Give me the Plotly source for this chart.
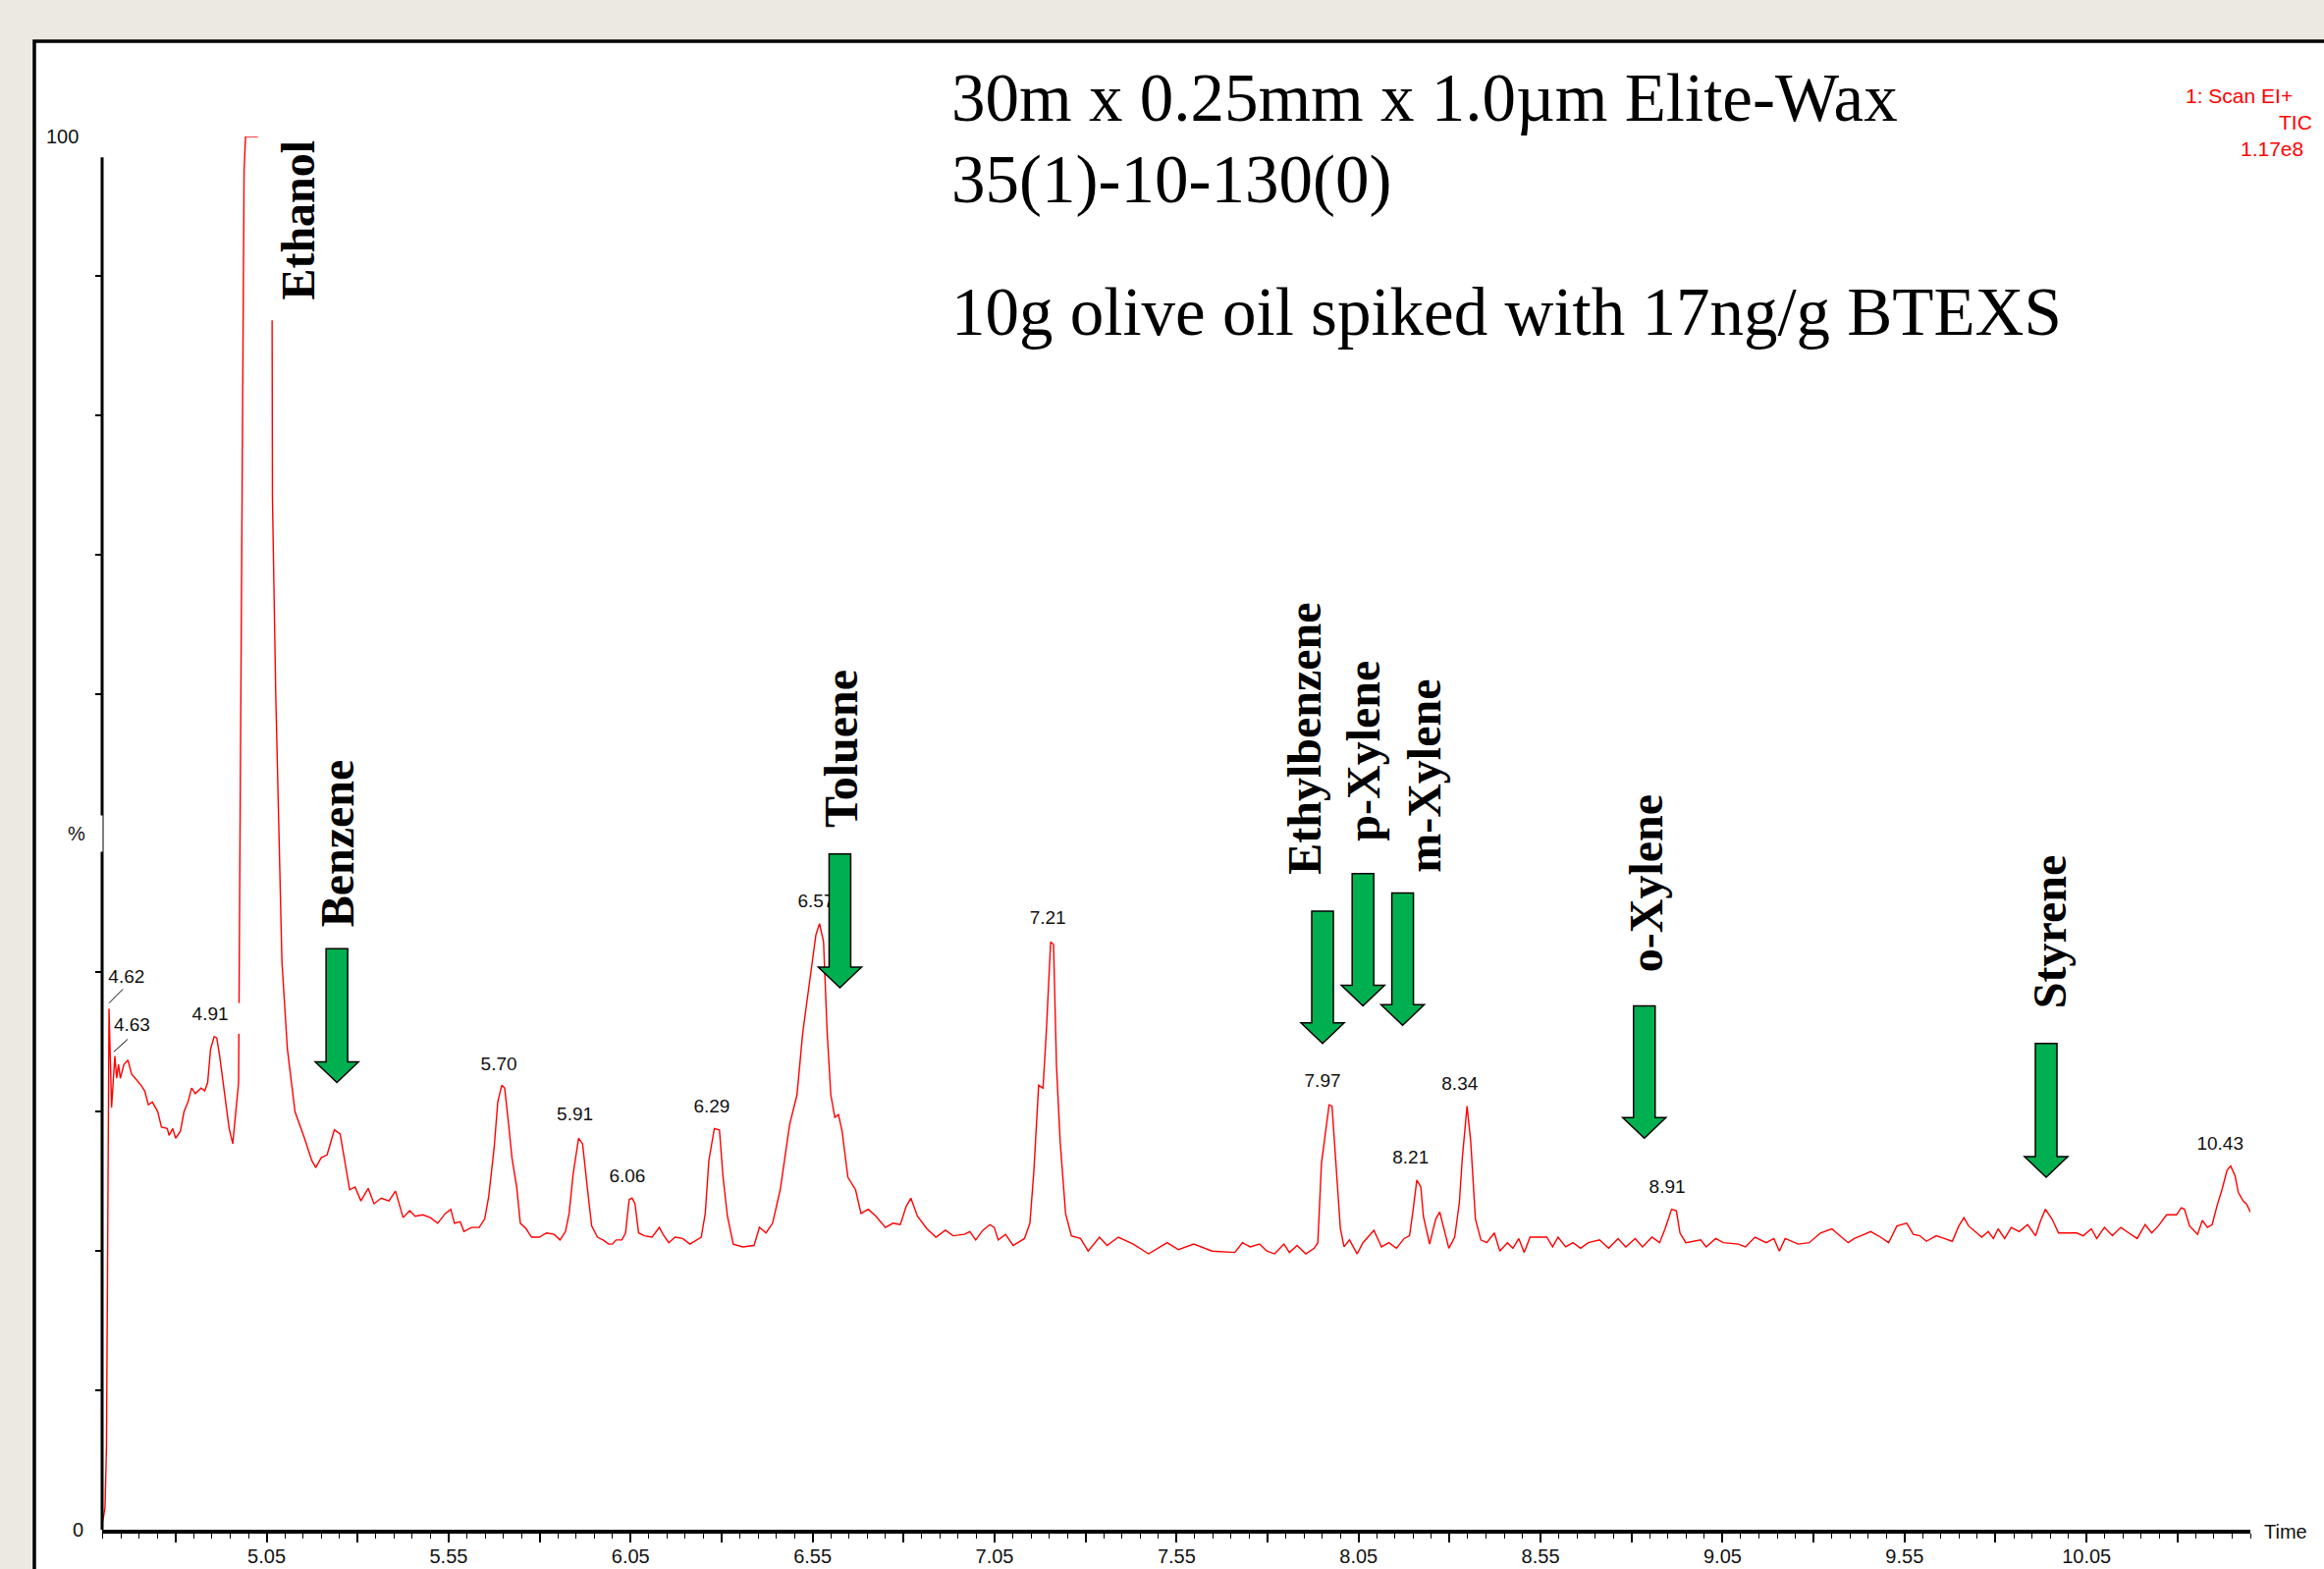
import plotly.graph_objects as go

# ---------------- data ----------------
time_min = [
    4.600, 4.606, 4.610, 4.613, 4.617, 4.624, 4.633, 4.638, 4.643, 4.648,
    4.658, 4.669, 4.679, 4.689, 4.705, 4.715, 4.725, 4.736, 4.751, 4.761,
    4.777, 4.782, 4.792, 4.800, 4.813, 4.823, 4.834, 4.844, 4.854, 4.870,
    4.880, 4.888, 4.896, 4.906, 4.913, 4.921, 4.934, 4.947, 4.957, 4.965,
    4.973, 4.976, 4.982, 4.988, 4.992, 5.026, None,
    5.065, 5.066, 5.075, 5.087, 5.092, 5.107, 5.128, 5.154, 5.174, 5.185,
    5.200, 5.216, 5.236, 5.252, 5.262, 5.278, 5.293, 5.309, 5.329, 5.345,
    5.365, 5.386, 5.404, 5.425, 5.443, 5.458, 5.479, 5.500, 5.520, 5.541,
    5.556, 5.566, 5.582, 5.592, 5.613, 5.634, 5.649, 5.660, 5.675, 5.685,
    5.696, 5.704, 5.714, 5.724, 5.737, 5.747, 5.763, 5.778, 5.799, 5.819,
    5.840, 5.856, 5.871, 5.881, 5.892, 5.907, 5.918, 5.925, 5.933, 5.943,
    5.959, 5.974, 5.990, 6.000, 6.010, 6.026, 6.036, 6.046, 6.054, 6.062,
    6.072, 6.088, 6.109, 6.129, 6.139, 6.155,
    6.172, 6.193, 6.213, 6.244, 6.255, 6.265, 6.280, 6.294, 6.304, 6.316,
    6.332, 6.358, 6.389, 6.404, 6.422, 6.440, 6.461, 6.487, 6.507, 6.523,
    6.549, 6.559, 6.569, 6.580, 6.590, 6.600, 6.611, 6.621, 6.631, 6.647,
    6.668, 6.683, 6.703, 6.724, 6.750, 6.771, 6.791, 6.807, 6.820, 6.838,
    6.864, 6.889, 6.915, 6.936, 6.967, 6.982, 6.998, 7.018, 7.037, 7.049,
    7.060, 7.080, 7.101, 7.132, 7.147, 7.158, 7.171, 7.183, 7.192, 7.204,
    7.212, 7.220, 7.230, 7.245, 7.261, 7.286, 7.307, 7.338, 7.359, 7.390,
    7.431, 7.473, 7.524, 7.555, 7.597, 7.648, 7.710, 7.731, 7.752,
    7.778, 7.798, 7.819, 7.845, 7.860, 7.881, 7.905, 7.928, 7.938, 7.948,
    7.969, 7.977, 7.988, 8.000, 8.010, 8.025, 8.046, 8.062, 8.092, 8.113,
    8.133, 8.154, 8.175, 8.190, 8.200, 8.210, 8.221, 8.228, 8.245, 8.262,
    8.273, 8.283, 8.298, 8.314, 8.327, 8.335, 8.348, 8.358, 8.371, 8.386,
    8.402, 8.423, 8.438, 8.459, 8.474, 8.490, 8.505, 8.521, 8.567, 8.583,
    8.598, 8.619, 8.639, 8.660, 8.681, 8.712, 8.737, 8.763, 8.784, 8.810,
    8.830, 8.856, 8.877, 8.892, 8.910, 8.923, 8.933, 8.949, 8.990, 9.005,
    9.031, 9.052, 9.093, 9.113, 9.139, 9.170, 9.191, 9.206, 9.222, 9.258,
    9.288, 9.319, 9.350,
    9.395, 9.412, 9.430, 9.457, 9.484, 9.506, 9.529, 9.556, 9.574, 9.592,
    9.610, 9.637, 9.659, 9.681, 9.699, 9.713, 9.726, 9.762, 9.780, 9.794,
    9.807, 9.825, 9.843, 9.865, 9.888, 9.910, 9.924, 9.937, 9.955, 9.973,
    9.996, 10.023, 10.041, 10.063, 10.078, 10.099, 10.121, 10.144, 10.166, 10.189,
    10.211, 10.229, 10.247, 10.270, 10.297, 10.310, 10.319, 10.333, 10.355, 10.368,
    10.382, 10.395, 10.409, 10.422, 10.436, 10.446, 10.458, 10.467, 10.480, 10.489,
    10.500,
]
intensity_pct = [
    0.6, 1.6, 6.0, 20.0, 37.4, 30.3, 34.0, 32.4, 33.4, 32.4,
    33.4, 33.7, 32.7, 32.4, 31.9, 31.5, 30.5, 30.7, 30.0, 28.9,
    28.8, 28.3, 28.8, 28.1, 28.6, 30.0, 30.7, 31.7, 31.3, 31.7,
    31.5, 32.1, 34.5, 35.4, 35.3, 34.0, 31.2, 28.8, 27.7, 29.8,
    32.1, 46.0, 74.4, 97.5, 100.0, 100.0, None,
    86.8, 74.0, 60.0, 46.2, 40.8, 34.5, 30.0, 28.1, 26.5, 26.0,
    26.7, 26.9, 28.7, 28.4, 26.9, 24.4, 24.6, 23.6, 24.5, 23.4,
    23.8, 23.6, 24.3, 22.4, 22.9, 22.5, 22.6, 22.4, 22.0, 22.7,
    23.0, 22.0, 22.1, 21.4, 21.7, 21.7, 22.3, 23.9, 27.4, 30.7,
    31.9, 31.7, 29.3, 26.7, 24.6, 22.0, 21.6, 21.0, 21.0, 21.3,
    21.2, 20.8, 21.4, 22.7, 25.5, 28.1, 27.7, 25.8, 24.1, 21.8,
    21.0, 20.8, 20.5, 20.5, 20.8, 20.8, 21.3, 23.7, 23.8, 23.4,
    21.3, 21.1, 21.0, 21.7, 21.2, 20.6,
    21.0, 20.9, 20.5, 21.0, 22.7, 26.5, 28.8, 28.7, 25.3, 22.5,
    20.5, 20.3, 20.4, 21.7, 21.3, 22.0, 24.4, 29.1, 31.2, 35.7,
    40.6, 42.7, 43.5, 42.2, 35.7, 31.2, 29.6, 29.8, 28.6, 25.3,
    24.4, 22.7, 23.0, 22.5, 21.7, 22.0, 21.9, 23.2, 23.8, 22.5,
    21.6, 21.0, 21.5, 21.1, 21.2, 21.4, 20.8, 21.5, 21.9, 21.7,
    20.8, 21.2, 20.4, 20.9, 22.0, 25.8, 31.9, 31.7, 35.7, 42.2,
    42.0, 33.3, 27.9, 22.7, 21.1, 20.9, 20.0, 21.0, 20.4, 21.0,
    20.5, 19.8, 20.6, 20.1, 20.5, 20.0, 19.9, 20.6, 20.3,
    20.5, 20.0, 19.8, 20.5, 19.9, 20.4, 19.8, 20.2, 20.6, 26.3,
    30.5, 30.4, 25.8, 21.6, 20.3, 20.8, 19.8, 20.6, 21.5, 20.3,
    20.6, 20.2, 20.9, 21.1, 23.0, 25.1, 24.6, 22.5, 20.5, 22.3,
    22.8, 21.8, 20.2, 21.0, 23.5, 26.7, 30.4, 27.9, 22.3, 20.8,
    20.6, 21.3, 20.0, 20.6, 20.2, 20.9, 19.9, 21.0, 21.0, 20.3,
    21.0, 20.3, 20.6, 20.2, 20.6, 20.8, 20.2, 20.9, 20.3, 20.9,
    20.3, 21.0, 20.6, 21.6, 23.0, 22.9, 21.3, 20.6, 20.8, 20.3,
    20.9, 20.6, 20.5, 20.3, 21.0, 20.6, 20.9, 20.0, 20.9, 20.5,
    20.6, 21.3, 21.6,
    20.6, 20.9, 21.1, 21.4, 21.0, 20.6, 21.8, 22.0, 21.2, 21.1,
    20.7, 21.1, 20.9, 20.7, 21.8, 22.4, 21.8, 21.0, 21.4, 20.9,
    21.6, 20.9, 21.7, 21.4, 21.9, 21.1, 22.2, 23.0, 22.3, 21.3,
    21.3, 21.3, 21.1, 21.6, 20.9, 21.7, 21.1, 21.7, 21.3, 20.9,
    21.9, 21.3, 21.8, 22.6, 22.6, 23.1, 23.0, 21.8, 21.2, 22.2,
    21.7, 21.9, 23.3, 24.4, 25.8, 26.1, 25.4, 24.2, 23.6, 23.4,
    22.8,
]

# retention-time labels printed above peaks
peak_labels = ["4.62", "4.63", "4.91", "5.70", "5.91", "6.06", "6.29", "6.57",
               "7.21", "7.97", "8.21", "8.34", "8.91", "10.43"]
peak_label_x = [4.665, 4.680, 4.895, 5.688, 5.897, 6.041, 6.273, 6.559,
                7.196, 7.951, 8.193, 8.328, 8.898, 10.417]
peak_label_y = [39.6, 36.1, 36.9, 33.3, 29.7, 25.3, 30.3, 45.0,
                43.8, 32.1, 26.6, 31.9, 24.5, 27.6]

# compound annotations (names, label centre, arrow position)
compounds = ["Ethanol", "Benzene", "Toluene", "Ethylbenzene", "p-Xylene",
             "m-Xylene", "o-Xylene", "Styrene"]
compound_label_x = [5.136, 5.245, 6.629, 7.899, 8.064, 8.230, 8.840, 9.947]
compound_label_y = [94.0, 49.3, 56.1, 56.8, 55.9, 54.1, 46.4, 42.9]
arrow_x = [None, 5.243, 6.625, 7.951, 8.062, 8.171, 8.835, 9.939]
arrow_top = [None, 41.7, 48.5, 44.4, 47.1, 45.7, 37.6, 34.9]
arrow_tip = [None, 32.1, 38.9, 34.9, 37.6, 36.2, 28.1, 25.3]

x_major_ticks = [4.80, 5.05, 5.30, 5.55, 5.80, 6.05, 6.30, 6.55, 6.80, 7.05,
                 7.30, 7.55, 7.80, 8.05, 8.30, 8.55, 8.80, 9.05, 9.30, 9.55,
                 9.80, 10.05, 10.30]
x_tick_text = ["", "5.05", "", "5.55", "", "6.05", "", "6.55", "", "7.05",
               "", "7.55", "", "8.05", "", "8.55", "", "9.05", "", "9.55",
               "", "10.05", ""]
y_ticks = [10, 20, 30, 40, 50, 60, 70, 80, 90]

header_lines = ["30m x 0.25mm x 1.0\u00b5m Elite-Wax", "35(1)-10-130(0)",
                "10g olive oil spiked with 17ng/g BTEXS"]
scan_info = ["1: Scan EI+", "TIC", "1.17e8"]

# ---------------- figure ----------------
W, H = 2367, 1598
ML, MR, MT, MB = 104, 75, 139, 40
PW, PH = W - ML - MR, H - MT - MB
X_RANGE = [4.598, 10.500]

def px_x(p):   # pixel -> paper x
    return (p - ML) / PW

def px_y(p):   # pixel -> paper y
    return (H - MB - p) / PH

SANS = "Liberation Sans, Arial, sans-serif"
SERIF = "Liberation Serif, Times New Roman, serif"
GREEN = "#00B050"

fig = go.Figure()
fig.add_trace(go.Scatter(x=time_min, y=intensity_pct, mode="lines",
                         line=dict(color="#FF0000", width=1.4),
                         connectgaps=False, hoverinfo="skip", showlegend=False))
fig.add_trace(go.Scatter(x=peak_label_x, y=peak_label_y, mode="text",
                         text=peak_labels, textposition="middle center",
                         textfont=dict(family=SANS, size=19, color="#111111"),
                         hoverinfo="skip", showlegend=False))

shapes = []
# white panel with black border
shapes.append(dict(type="rect", xref="paper", yref="paper",
                   x0=px_x(35), x1=1.2, y0=-0.2, y1=px_y(42),
                   fillcolor="white", line=dict(color="black", width=3.5),
                   layer="below"))
# y axis line (stops just below 100 %)
shapes.append(dict(type="line", xref="paper", yref="y", x0=0, x1=0,
                   y0=0, y1=98.5, line=dict(color="black", width=3),
                   layer="above"))
# leader lines for 4.62 / 4.63
shapes.append(dict(type="line", xref="x", yref="y", x0=4.655, y0=38.8,
                   x1=4.617, y1=37.8, line=dict(color="black", width=1)))
shapes.append(dict(type="line", xref="x", yref="y", x0=4.668, y0=35.2,
                   x1=4.630, y1=34.3, line=dict(color="black", width=1)))
# white box behind the 4.91 label cutting the ethanol flank
shapes.append(dict(type="rect", xref="x", yref="y", x0=4.957, x1=4.989,
                   y0=35.6, y1=37.8, fillcolor="white",
                   line=dict(width=0), layer="above"))

# block arrows
SHAFT_HALF = 11 / 370.7
HEAD_HALF = 22 / 370.7
HEAD_H = 21 / 14.19
for ax, top, tip in zip(arrow_x, arrow_top, arrow_tip):
    if ax is None:
        continue
    hb = tip + HEAD_H
    path = (f"M {ax - SHAFT_HALF},{top} L {ax + SHAFT_HALF},{top} "
            f"L {ax + SHAFT_HALF},{hb} L {ax + HEAD_HALF},{hb} L {ax},{tip} "
            f"L {ax - HEAD_HALF},{hb} L {ax - SHAFT_HALF},{hb} Z")
    shapes.append(dict(type="path", xref="x", yref="y", path=path,
                       fillcolor=GREEN, line=dict(color="black", width=1.5),
                       layer="above"))

annotations = []
for name, cx, cy in zip(compounds, compound_label_x, compound_label_y):
    annotations.append(dict(text=name, x=cx, y=cy, xref="x", yref="y",
                            textangle=-90, showarrow=False,
                            xanchor="center", yanchor="middle",
                            font=dict(family=SERIF, size=48, color="black",
                                      weight="bold")))

header_y = [px_y(100.5), px_y(183.5), px_y(318)]
for txt, yy in zip(header_lines, header_y):
    annotations.append(dict(text=txt, x=px_x(967), y=yy, xref="paper",
                            yref="paper", xanchor="left", yanchor="middle",
                            showarrow=False,
                            font=dict(family=SERIF, size=69, color="black")))

scan_pos = [(2337, 97), (2357, 125), (2348, 152)]
for txt, (sx, sy) in zip(scan_info, scan_pos):
    annotations.append(dict(text=txt, x=px_x(sx), y=px_y(sy), xref="paper",
                            yref="paper", xanchor="right", yanchor="middle",
                            showarrow=False,
                            font=dict(family=SANS, size=21, color="#FF0000")))

annotations.append(dict(text="100", x=px_x(82), y=100, xref="paper", yref="y",
                        xanchor="right", yanchor="middle", showarrow=False,
                        font=dict(family=SANS, size=20, color="#111111")))
annotations.append(dict(text="0", x=px_x(87), y=0, xref="paper", yref="y",
                        xanchor="right", yanchor="middle", showarrow=False,
                        font=dict(family=SANS, size=20, color="#111111")))
annotations.append(dict(text="%", x=px_x(105), y=50, xref="paper", yref="y",
                        xanchor="right", yanchor="middle", showarrow=False,
                        width=50, height=34, bgcolor="white", align="center",
                        font=dict(family=SANS, size=20, color="#111111")))
annotations.append(dict(text="Time", x=px_x(2304), y=px_y(1560), xref="paper",
                        yref="paper", xanchor="left", yanchor="middle",
                        showarrow=False,
                        font=dict(family=SANS, size=20, color="#111111")))

fig.update_layout(
    template="none",
    width=W, height=H,
    margin=dict(l=ML, r=MR, t=MT, b=MB, pad=0, autoexpand=False),
    paper_bgcolor="#ECE9E2",
    plot_bgcolor="white",
    showlegend=False,
    shapes=shapes,
    annotations=annotations,
    xaxis=dict(range=X_RANGE, showgrid=False, zeroline=False,
               showline=True, linecolor="black", linewidth=4,
               ticks="outside", ticklen=9, tickwidth=1.5, tickcolor="black",
               tickmode="array", tickvals=x_major_ticks, ticktext=x_tick_text,
               ticklabelstandoff=-3,
               tickfont=dict(family=SANS, size=20, color="#111111"),
               minor=dict(ticks="outside", ticklen=5, tickwidth=1.2,
                          tickcolor="black", tick0=5.05, dtick=0.05,
                          showgrid=False),
               automargin=False, fixedrange=True),
    yaxis=dict(range=[0, 100], showgrid=False, zeroline=False,
               showline=False, ticks="outside", ticklen=6, tickwidth=2,
               tickcolor="black", tickmode="array", tickvals=y_ticks,
               showticklabels=False, automargin=False, fixedrange=True),
)

fig.write_html("out.html")
